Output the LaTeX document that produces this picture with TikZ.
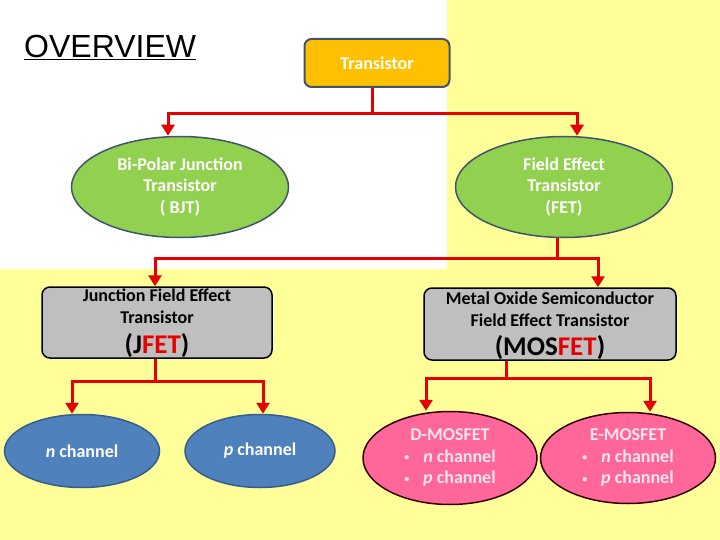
\documentclass[tikz,border=0pt]{standalone}
\usepackage{fontspec}
\setmainfont{Carlito}
\newfontfamily\arialfont{Liberation Sans}
\usetikzlibrary{shapes.geometric,arrows.meta}
\definecolor{bgyellow}{RGB}{255,255,153}
\definecolor{orangefill}{RGB}{255,192,0}
\definecolor{slateline}{RGB}{65,84,106}
\definecolor{greenfill}{RGB}{146,208,80}
\definecolor{grayfill}{RGB}{191,191,191}
\definecolor{bluefill}{RGB}{79,129,189}
\definecolor{blueline}{RGB}{56,93,138}
\definecolor{pinkfill}{RGB}{255,102,153}
\definecolor{linered}{RGB}{230,0,0}
\definecolor{pinktext}{RGB}{255,230,240}
\newcommand{\smbul}{\raisebox{1.5pt}{\scalebox{0.55}{\textbullet}}}
\tikzset{
  x=1pt, y=-1pt,
  conn/.style={draw=linered, line width=3pt},
  arr/.style={conn, -{Triangle[width=13pt,length=11pt]}},
  greenell/.style={ellipse, draw=slateline, line width=1.5pt, fill=greenfill, text=white, align=center, inner sep=0pt, font=\bfseries\fontsize{18}{21.5}\selectfont},
  graybox/.style={rectangle, rounded corners=8pt, draw=black, line width=1.5pt, fill=grayfill, align=center, inner sep=0pt},
  blueell/.style={ellipse, draw=blueline, line width=1.5pt, fill=bluefill, text=white, inner sep=0pt, font=\bfseries\fontsize{18}{20}\selectfont},
  pinkell/.style={ellipse, draw=black!80!red, line width=1.5pt, fill=pinkfill, inner sep=0pt},
  pinktxt/.style={font=\bfseries\fontsize{18}{21.5}\selectfont, text=pinktext, align=center},
}
\begin{document}
\begin{tikzpicture}
\useasboundingbox (0,0) rectangle (720,540);
\fill[bgyellow] (0,0) rectangle (720,540);
\fill[white] (0,0) rectangle (447,269);
% title
\node[anchor=west, inner sep=0pt, font=\arialfont\fontsize{32}{34}\selectfont] (title) at (24,47) {\underline{OVERVIEW}};
% nodes
\node[rectangle, rounded corners=7pt, draw=slateline, line width=2pt, fill=orangefill, text=white, minimum width=145pt, minimum height=48pt, font=\bfseries\fontsize{18}{20}\selectfont] (tr) at (377,63) {Transistor};
\node[greenell, minimum width=217pt, minimum height=101pt] (bjt) at (180,187) {Bi-Polar Junction\\Transistor\\( BJT)};
\node[greenell, minimum width=217pt, minimum height=101pt] (fet) at (564,187) {Field Effect\\Transistor\\(FET)};
\node[graybox, minimum width=230pt, minimum height=71pt] (jfet) at (157,322.5) {};
\node[font=\bfseries\fontsize{18}{22}\selectfont, align=center] (jfett) at (157,306) {Junction Field Effect\\Transistor};
\node[font=\bfseries\fontsize{27}{29}\selectfont] (jfetb) at (157,346) {(J\textcolor{linered}{FET})};
\node[graybox, minimum width=252pt, minimum height=72pt] (mos) at (550,324) {};
\node[font=\bfseries\fontsize{18}{22}\selectfont, align=center] (most) at (550,309) {Metal Oxide Semiconductor\\Field Effect Transistor};
\node[font=\bfseries\fontsize{27}{29}\selectfont] (mosb) at (550,348) {(MOS\textcolor{linered}{FET})};
\node[blueell, minimum width=155pt, minimum height=73pt] (nch) at (82,451) {\textit{n} channel};
\node[blueell, minimum width=150pt, minimum height=73pt] (pch) at (260,451) {\textit{p} channel};
\node[pinkell, minimum width=174pt, minimum height=93pt] (dm) at (450,458) {};
\node[pinktxt] (dmt) at (450,458) {D-MOSFET\\\smbul\hspace{14pt}\textit{n} channel\\\smbul\hspace{14pt}\textit{p} channel};
\node[pinkell, minimum width=175pt, minimum height=91pt] (em) at (628,458) {};
\node[pinktxt] (emt) at (628,458) {E-MOSFET\\\smbul\hspace{14pt}\textit{n} channel\\\smbul\hspace{14pt}\textit{p} channel};
% connectors
\coordinate (j1) at (372,114);
\draw[conn] (tr.south -| j1) -- (j1);
\draw[arr] (j1) -| (bjt.north -| 168,0);
\draw[arr] (j1) -| (fet.north -| 577,0);
\coordinate (j2) at (557,258);
\draw[conn] (fet.south -| j2) -- (j2);
\draw[arr] (j2) -| (jfet.north -| 155,0);
\draw[arr] (j2) -| (mos.north -| 598,0);
\coordinate (j3) at (155,381);
\draw[conn] (jfet.south -| j3) -- (j3);
\draw[arr] (j3) -| (nch.north -| 72,0);
\draw[arr] (j3) -| (pch.north -| 263,0);
\coordinate (j4) at (506,378);
\draw[conn] (mos.south -| j4) -- (j4);
\draw[arr] (j4) -| (dm.north -| 426,0);
\draw[arr] (j4) -| (em.north -| 650,0);
\end{tikzpicture}
\end{document}
